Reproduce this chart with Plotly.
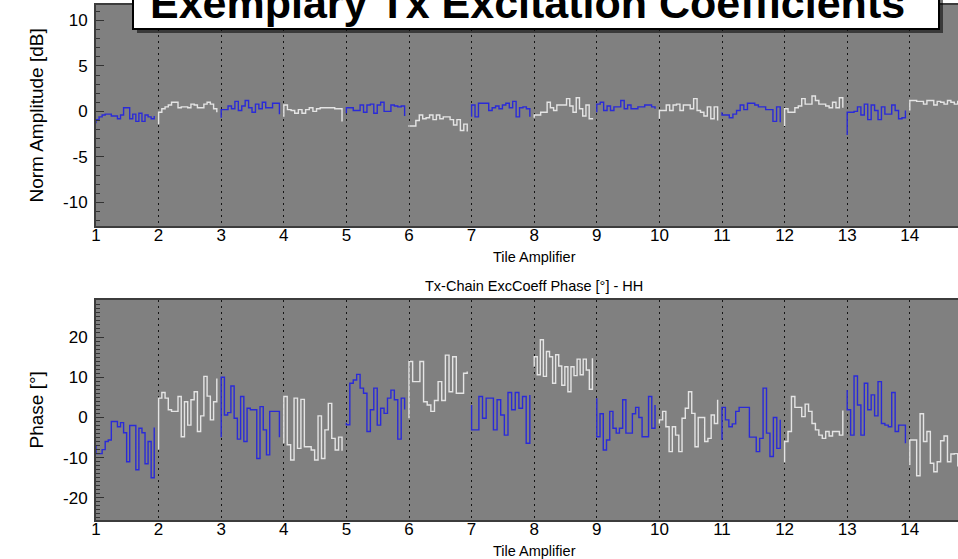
import plotly.graph_objects as go

# ---------------- data ----------------
tiles = list(range(1, 15))
x_tick_vals = list(range(1, 15))
amp_tick_vals = [-10, -5, 0, 5, 10]
amp_tick_text = ["-10", "-5", "0", "5", "10"]
phase_tick_vals = [-20, -10, 0, 10, 20]
phase_tick_text = ["-20", "-10", "0", "10", "20"]

# each list: [start value, step levels ..., end value]
amp_01 = [-1.3, -0.9, -0.6, -0.4, -0.3, -0.3, -0.5, -0.5, -0.8, -0.4, 0.4, 0.4, -0.8, -0.3, -1.1, -0.2, -1.1, -0.4, -0.6, -0.8, -0.5]
amp_02 = [-1.4, -0.1, 0.3, 0.5, 0.7, 1.0, 1.0, 0.4, 0.5, 0.5, 0.4, 0.8, 0.7, 0.4, 0.4, 0.8, 1.0, 0.8, 0.3, -0.1]
amp_03 = [-0.7, 0.2, 0.2, 0.6, 0.3, 1.1, 0.1, 0.6, 1.2, 0.4, -0.1, 0.8, 0.3, 1.0, 0.4, 0.4, 0.9, 0.9, -0.3]
amp_04 = [-0.6, 0.7, 0.2, 0.1, -0.2, 0.2, -0.2, 0.2, 0.4, 0.0, 0.3, 0.4, 0.4, 0.4, 0.4, 0.3, 0.3, -1.1]
amp_05 = [-0.2, 0.4, 0.4, 0.1, 0.1, 0.7, -0.1, 0.7, 0.8, -0.2, 0.7, 1.0, 0.0, 0.0, 0.7, 0.6, 0.5, 0.6, -0.5]
amp_06 = [-1.7, -1.6, -1.6, -1.0, -0.4, -0.8, -0.7, -0.4, -0.9, -0.4, -0.8, -0.6, -0.6, -0.9, -1.5, -0.9, -2.1, -1.4, -2.2]
amp_07 = [-0.6, 0.7, -0.6, 0.9, 0.9, 0.9, 0.1, 0.4, 0.6, 0.3, 0.7, 0.9, 0.4, 1.1, -0.6, 0.4, 0.5, 0.3, -0.6]
amp_08 = [-0.7, -0.4, -0.4, -0.1, -0.1, 1.0, 0.4, 0.1, 0.7, 0.7, 0.7, 1.4, 0.6, -0.1, 1.5, 0.3, -0.5, 0.7, -0.8, -0.9]
amp_09 = [-0.1, 0.8, 1.0, 0.1, 0.6, 0.1, 0.5, 0.5, 1.2, 0.3, 0.7, 0.3, 0.3, 0.5, 0.5, 0.7, 0.7, 0.5, 0.3]
amp_10 = [-0.8, 0.1, 0.1, 0.7, 0.1, 0.7, 0.8, 0.1, 0.7, 0.7, 0.3, 1.4, 0.1, -0.1, -0.5, 0.5, -0.8, 0.5, -1.0]
amp_11 = [-0.1, -0.4, -0.4, -0.7, -0.3, 0.1, 0.7, 0.2, 0.9, 0.9, 0.7, 0.5, 0.5, 0.2, 0.2, -1.1, 0.5, -1.2]
amp_12 = [-1.6, 0.3, -0.1, -0.1, 0.4, 0.6, 1.4, 0.8, 0.8, 1.7, 1.2, 0.8, 0.8, 0.6, 0.4, 1.0, 0.4, 1.5, 0.4]
amp_13 = [-2.6, -0.1, -0.1, 0.0, 0.5, -0.4, 0.8, -0.9, 0.7, 0.1, -0.9, 0.5, -0.3, -0.3, 0.7, 0.1, -0.8, -0.7, 0.1]
amp_14 = [0.1, 1.2, 1.2, 1.1, 1.1, 0.8, 1.2, 1.2, 0.7, 1.1, 1.0, 0.8, 1.2, 1.0, 0.8, 1.1, 0.9, 1.0, 0.5]

ph_01 = [-7.0, -9.0, -9.0, -8.0, -6.0, -5.6, -1.0, -1.0, -2.3, -1.3, -3.8, -11.0, -2.0, -2.0, -13.0, -2.7, -3.8, -11.5, -6.0, -15.0, -2.5]
ph_02 = [-8.0, 4.8, 6.2, 4.8, 1.9, 1.5, 1.5, 5.2, -4.8, 3.9, -1.9, 4.4, 6.4, -3.5, 0.4, 10.2, 5.3, -0.6, 3.9, 9.7]
ph_03 = [-4.9, 10.0, 0.6, 1.2, 7.8, -0.2, -5.4, 5.2, -6.0, 2.3, 1.9, 1.9, -10.2, 2.7, -3.1, -9.3, 1.5, 1.5, 1.5, -4.9]
ph_04 = [-6.4, 5.2, -6.8, -10.6, 4.8, -7.7, 4.5, -7.3, -7.3, -8.1, -10.6, 0.4, -10.2, -3.1, 3.5, -5.2, -8.1, -4.9, -8.3]
ph_05 = [-1.3, -1.8, 8.5, 9.3, 10.7, 7.3, 6.0, -3.5, 1.9, 7.3, -1.9, 2.3, 1.0, 4.8, 6.8, 4.4, -5.4, 4.8, 2.0]
ph_06 = [-0.2, 13.9, 8.9, 8.9, 13.9, 3.9, 3.1, 1.5, 4.2, 8.9, 4.2, 15.5, 6.4, 15.1, 6.0, 6.0, 11.0, 11.4]
ph_07 = [3.1, -3.1, -3.1, 5.2, -0.2, 4.8, 4.8, -3.1, 4.4, 0.6, -4.4, 6.2, 1.9, 6.2, 2.3, 5.2, -6.4, 5.6]
ph_08 = [12.6, 15.1, 10.6, 19.3, 10.2, 16.4, 15.1, 8.5, 15.6, 12.8, 8.0, 12.6, 6.4, 12.6, 10.4, 14.5, 10.6, 14.5, 11.8, 7.0, 14.7]
ph_09 = [4.8, -4.8, 0.9, -8.1, -5.6, 1.5, -2.7, -3.9, -2.7, 4.4, -3.9, -3.9, 0.9, 2.5, 0.0, -4.8, -4.8, 5.2, -2.7, 3.1]
ph_10 = [-1.5, -0.6, 1.5, -2.3, -8.5, -2.3, -4.4, -8.5, -0.2, 2.3, 6.4, 1.0, -7.3, 0.0, 0.0, -6.0, -5.2, 0.6, -1.5, 4.4]
ph_11 = [-5.6, 2.5, -0.6, -2.3, -1.6, 1.5, 2.5, 2.5, 2.5, -4.9, -4.9, -8.5, -5.2, 7.3, -3.9, -9.7, 0.0, -7.7, -0.6]
ph_12 = [-11.2, -6.0, -3.5, 5.2, 2.5, 2.5, 0.2, 3.3, 1.5, -1.5, -3.1, -4.4, -5.2, -3.5, -4.6, -3.5, -3.5, -4.4, 1.7]
ph_13 = [6.8, 1.9, -4.4, 10.3, 3.1, -4.4, 8.5, 1.9, 5.6, 0.4, 8.9, -1.5, -1.9, -2.3, 6.2, -3.5, -1.9, -1.9, -6.4]
ph_14 = [-11.8, -5.6, -5.6, -14.5, 0.9, -6.0, -3.5, -11.4, -13.5, -11.0, -5.8, -4.6, -11.0, -9.1, -9.0, -12.0, -8.0, -10.0, -7.0]

amp_segments = [amp_01, amp_02, amp_03, amp_04, amp_05, amp_06, amp_07,
                amp_08, amp_09, amp_10, amp_11, amp_12, amp_13, amp_14]
phase_segments = [ph_01, ph_02, ph_03, ph_04, ph_05, ph_06, ph_07,
                  ph_08, ph_09, ph_10, ph_11, ph_12, ph_13, ph_14]

# ---------------- style ----------------
BLUE = "#2a2ad8"
WHITE = "#e4e4e4"
BG = "#808080"
FRAME = "#3c3c3c"
FONT = "Liberation Sans, Arial, Helvetica, sans-serif"
SPAN = 0.93
X_MAX = 14.77

fig = go.Figure()


def add_segments(segments, xa, ya):
    for t, vals in zip(tiles, segments):
        n = len(vals) - 2
        w = SPAN / n
        xs = [t] + [t + k * w for k in range(n)] + [t + n * w]
        col = BLUE if t % 2 == 1 else WHITE
        fig.add_trace(go.Scatter(
            x=xs, y=vals, mode="lines", xaxis=xa, yaxis=ya,
            line=dict(shape="hv", color=col, width=1.4),
            showlegend=False, hoverinfo="skip"))


add_segments(amp_segments, "x", "y")
add_segments(phase_segments, "x2", "y2")

H = 559.0
W_PLOT = 862.0


def py(px):
    return 1 - px / H


def px_x(px):
    return (px - 96) / W_PLOT


xcommon = dict(
    range=[1, X_MAX], tickmode="array", tickvals=x_tick_vals,
    showgrid=True, gridcolor="#151515", gridwidth=1, griddash="2px,4px",
    showline=True, linecolor=FRAME, linewidth=2, mirror=True,
    ticks="", zeroline=False, ticklabelstandoff=-7,
    tickfont=dict(family=FONT, size=17, color="black"),
)
ycommon = dict(
    tickmode="array", ticks="inside", ticklen=8, tickwidth=1, tickcolor="#333333",
    showgrid=False, zeroline=False, showline=True, linecolor=FRAME, linewidth=2,
    ticklabelstandoff=3,
    tickfont=dict(family=FONT, size=17, color="black"),
    minor=dict(ticks="inside", ticklen=4, tickwidth=1, tickcolor="#333333",
               tickmode="linear", tick0=0, dtick=1),
)

fig.update_layout(
    width=958, height=559,
    margin=dict(l=96, r=0, t=0, b=0),
    paper_bgcolor="white", plot_bgcolor=BG,
    font=dict(family=FONT, color="black"),
    xaxis=dict(domain=[0, 1], anchor="y", **xcommon),
    yaxis=dict(domain=[py(226), py(5)], anchor="x", range=[-12.6, 11.7],
               tickvals=amp_tick_vals, ticktext=amp_tick_text, **ycommon),
    xaxis2=dict(domain=[0, 1], anchor="y2", **xcommon),
    yaxis2=dict(domain=[py(520), py(300)], anchor="x2", range=[-25.5, 29.2],
                tickvals=phase_tick_vals, ticktext=phase_tick_text, **ycommon),
)

# title box with shadow
fig.add_shape(type="rect", xref="paper", yref="paper", layer="above",
              x0=px_x(137), x1=px_x(943), y0=py(33), y1=py(-40),
              fillcolor="rgba(0,0,0,0.55)", line=dict(width=0))
fig.add_shape(type="rect", xref="paper", yref="paper", layer="above",
              x0=px_x(133), x1=px_x(939), y0=py(29), y1=py(-40),
              fillcolor="white", line=dict(color="black", width=2))

annos = [
    dict(text="<b>Exemplary Tx Excitation Coefficients</b>", xref="paper", yref="paper",
         x=px_x(527), y=py(3), xanchor="center", yanchor="middle", showarrow=False,
         font=dict(family=FONT, size=43, color="black")),
    dict(text="Norm Amplitude [dB]", xref="paper", yref="paper", x=px_x(36), y=py(115.5),
         xanchor="center", yanchor="middle", textangle=-90, showarrow=False,
         font=dict(family=FONT, size=19, color="black")),
    dict(text="Phase [°]", xref="paper", yref="paper", x=px_x(36), y=py(410.5),
         xanchor="center", yanchor="middle", textangle=-90, showarrow=False,
         font=dict(family=FONT, size=19, color="black")),
    dict(text="Tile Amplifier", xref="x", yref="paper", x=8, y=py(257),
         xanchor="center", yanchor="middle", showarrow=False,
         font=dict(family=FONT, size=14.5, color="black")),
    dict(text="Tx-Chain ExcCoeff Phase [°] - HH", xref="x2", yref="paper", x=8, y=py(286),
         xanchor="center", yanchor="middle", showarrow=False,
         font=dict(family=FONT, size=14.5, color="black")),
    dict(text="Tile Amplifier", xref="x2", yref="paper", x=8, y=py(551),
         xanchor="center", yanchor="middle", showarrow=False,
         font=dict(family=FONT, size=14.5, color="black")),
]
fig.update_layout(annotations=annos)

fig.write_html("out.html")
